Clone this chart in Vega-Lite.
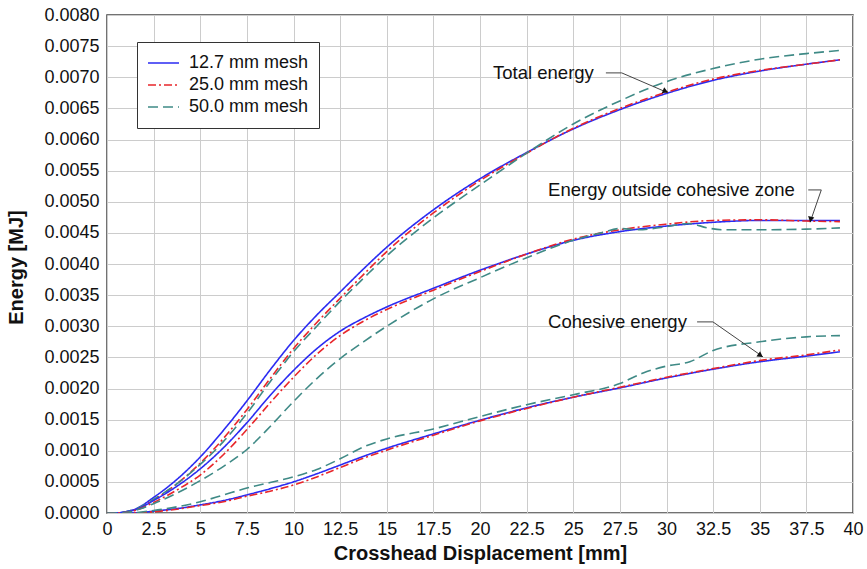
{
  "$schema": "https://vega.github.io/schema/vega-lite/v6.json",
  "width": 746,
  "height": 498,
  "autosize": "none",
  "padding": {"left": 107, "top": 15, "right": 14, "bottom": 56},
  "background": "white",
  "config": {
    "font": "Liberation Sans",
    "view": {"stroke": "#444444", "strokeWidth": 1.5},
    "axis": {
      "grid": true,
      "gridColor": "#cccccc",
      "gridWidth": 1,
      "tickSize": 0,
      "domain": false,
      "labelOverlap": false,
      "labelFontSize": 18,
      "labelColor": "#111111",
      "titleFontSize": 20,
      "titleFontWeight": "bold",
      "titleColor": "#111111"
    }
  },
  "datasets": {
    "curves": [
      {"e":"Total","m":"12.7 mm mesh","x":0,"y":0},{"e":"Total","m":"12.7 mm mesh","x":0.5,"y":0},{"e":"Total","m":"12.7 mm mesh","x":1,"y":0.00002},{"e":"Total","m":"12.7 mm mesh","x":1.5,"y":0.00006},{"e":"Total","m":"12.7 mm mesh","x":2.5,"y":0.00025},{"e":"Total","m":"12.7 mm mesh","x":3.75,"y":0.00054},{"e":"Total","m":"12.7 mm mesh","x":5,"y":0.0009},{"e":"Total","m":"12.7 mm mesh","x":6.25,"y":0.00133},{"e":"Total","m":"12.7 mm mesh","x":7.5,"y":0.0018},{"e":"Total","m":"12.7 mm mesh","x":8.75,"y":0.0023},{"e":"Total","m":"12.7 mm mesh","x":10,"y":0.00277},{"e":"Total","m":"12.7 mm mesh","x":11.25,"y":0.00318},{"e":"Total","m":"12.7 mm mesh","x":12.5,"y":0.00355},{"e":"Total","m":"12.7 mm mesh","x":13.75,"y":0.00392},{"e":"Total","m":"12.7 mm mesh","x":15,"y":0.00427},{"e":"Total","m":"12.7 mm mesh","x":17.5,"y":0.00487},{"e":"Total","m":"12.7 mm mesh","x":20,"y":0.00537},{"e":"Total","m":"12.7 mm mesh","x":22.5,"y":0.00579},{"e":"Total","m":"12.7 mm mesh","x":25,"y":0.00617},{"e":"Total","m":"12.7 mm mesh","x":27.5,"y":0.00648},{"e":"Total","m":"12.7 mm mesh","x":30,"y":0.00674},{"e":"Total","m":"12.7 mm mesh","x":32.5,"y":0.00695},{"e":"Total","m":"12.7 mm mesh","x":35,"y":0.0071},{"e":"Total","m":"12.7 mm mesh","x":37.5,"y":0.00721},{"e":"Total","m":"12.7 mm mesh","x":39.3,"y":0.00728},

      {"e":"Total","m":"25.0 mm mesh","x":0,"y":0},{"e":"Total","m":"25.0 mm mesh","x":0.5,"y":0},{"e":"Total","m":"25.0 mm mesh","x":1,"y":0.00001},{"e":"Total","m":"25.0 mm mesh","x":1.5,"y":0.00005},{"e":"Total","m":"25.0 mm mesh","x":2.5,"y":0.00021},{"e":"Total","m":"25.0 mm mesh","x":3.75,"y":0.00047},{"e":"Total","m":"25.0 mm mesh","x":5,"y":0.0008},{"e":"Total","m":"25.0 mm mesh","x":6.25,"y":0.0012},{"e":"Total","m":"25.0 mm mesh","x":7.5,"y":0.00166},{"e":"Total","m":"25.0 mm mesh","x":8.75,"y":0.00216},{"e":"Total","m":"25.0 mm mesh","x":10,"y":0.00264},{"e":"Total","m":"25.0 mm mesh","x":11.25,"y":0.00306},{"e":"Total","m":"25.0 mm mesh","x":12.5,"y":0.00345},{"e":"Total","m":"25.0 mm mesh","x":13.75,"y":0.00383},{"e":"Total","m":"25.0 mm mesh","x":15,"y":0.0042},{"e":"Total","m":"25.0 mm mesh","x":17.5,"y":0.00482},{"e":"Total","m":"25.0 mm mesh","x":20,"y":0.00534},{"e":"Total","m":"25.0 mm mesh","x":22.5,"y":0.00578},{"e":"Total","m":"25.0 mm mesh","x":25,"y":0.00618},{"e":"Total","m":"25.0 mm mesh","x":27.5,"y":0.0065},{"e":"Total","m":"25.0 mm mesh","x":30,"y":0.00676},{"e":"Total","m":"25.0 mm mesh","x":32.5,"y":0.00697},{"e":"Total","m":"25.0 mm mesh","x":35,"y":0.00711},{"e":"Total","m":"25.0 mm mesh","x":37.5,"y":0.00721},{"e":"Total","m":"25.0 mm mesh","x":39.3,"y":0.00728},

      {"e":"Total","m":"50.0 mm mesh","x":0,"y":0},{"e":"Total","m":"50.0 mm mesh","x":0.5,"y":0},{"e":"Total","m":"50.0 mm mesh","x":1,"y":0.00002},{"e":"Total","m":"50.0 mm mesh","x":1.5,"y":0.00006},{"e":"Total","m":"50.0 mm mesh","x":2.5,"y":0.00022},{"e":"Total","m":"50.0 mm mesh","x":3.75,"y":0.00047},{"e":"Total","m":"50.0 mm mesh","x":5,"y":0.00078},{"e":"Total","m":"50.0 mm mesh","x":6.25,"y":0.00115},{"e":"Total","m":"50.0 mm mesh","x":7.5,"y":0.0016},{"e":"Total","m":"50.0 mm mesh","x":8.75,"y":0.00211},{"e":"Total","m":"50.0 mm mesh","x":10,"y":0.00259},{"e":"Total","m":"50.0 mm mesh","x":11.25,"y":0.003},{"e":"Total","m":"50.0 mm mesh","x":12.5,"y":0.0034},{"e":"Total","m":"50.0 mm mesh","x":13.75,"y":0.00377},{"e":"Total","m":"50.0 mm mesh","x":15,"y":0.00413},{"e":"Total","m":"50.0 mm mesh","x":17.5,"y":0.00474},{"e":"Total","m":"50.0 mm mesh","x":20,"y":0.00527},{"e":"Total","m":"50.0 mm mesh","x":22.5,"y":0.00578},{"e":"Total","m":"50.0 mm mesh","x":25,"y":0.00625},{"e":"Total","m":"50.0 mm mesh","x":27.5,"y":0.00662},{"e":"Total","m":"50.0 mm mesh","x":30,"y":0.00693},{"e":"Total","m":"50.0 mm mesh","x":32.5,"y":0.00714},{"e":"Total","m":"50.0 mm mesh","x":35,"y":0.00729},{"e":"Total","m":"50.0 mm mesh","x":37.5,"y":0.00738},{"e":"Total","m":"50.0 mm mesh","x":39.3,"y":0.00743},

      {"e":"Outside","m":"12.7 mm mesh","x":0,"y":0},{"e":"Outside","m":"12.7 mm mesh","x":0.5,"y":0},{"e":"Outside","m":"12.7 mm mesh","x":1,"y":0.00002},{"e":"Outside","m":"12.7 mm mesh","x":1.5,"y":0.00005},{"e":"Outside","m":"12.7 mm mesh","x":2.5,"y":0.0002},{"e":"Outside","m":"12.7 mm mesh","x":3.75,"y":0.00043},{"e":"Outside","m":"12.7 mm mesh","x":5,"y":0.00071},{"e":"Outside","m":"12.7 mm mesh","x":6.25,"y":0.00105},{"e":"Outside","m":"12.7 mm mesh","x":7.5,"y":0.00145},{"e":"Outside","m":"12.7 mm mesh","x":8.75,"y":0.00189},{"e":"Outside","m":"12.7 mm mesh","x":10,"y":0.00229},{"e":"Outside","m":"12.7 mm mesh","x":11.25,"y":0.00264},{"e":"Outside","m":"12.7 mm mesh","x":12.5,"y":0.00292},{"e":"Outside","m":"12.7 mm mesh","x":13.75,"y":0.00313},{"e":"Outside","m":"12.7 mm mesh","x":15,"y":0.00331},{"e":"Outside","m":"12.7 mm mesh","x":17.5,"y":0.00361},{"e":"Outside","m":"12.7 mm mesh","x":20,"y":0.0039},{"e":"Outside","m":"12.7 mm mesh","x":22.5,"y":0.00416},{"e":"Outside","m":"12.7 mm mesh","x":25,"y":0.00438},{"e":"Outside","m":"12.7 mm mesh","x":27.5,"y":0.00452},{"e":"Outside","m":"12.7 mm mesh","x":30,"y":0.00461},{"e":"Outside","m":"12.7 mm mesh","x":32.5,"y":0.00467},{"e":"Outside","m":"12.7 mm mesh","x":35,"y":0.0047},{"e":"Outside","m":"12.7 mm mesh","x":37.5,"y":0.0047},{"e":"Outside","m":"12.7 mm mesh","x":39.3,"y":0.0047},

      {"e":"Outside","m":"25.0 mm mesh","x":0,"y":0},{"e":"Outside","m":"25.0 mm mesh","x":0.5,"y":0},{"e":"Outside","m":"25.0 mm mesh","x":1,"y":0.00001},{"e":"Outside","m":"25.0 mm mesh","x":1.5,"y":0.00004},{"e":"Outside","m":"25.0 mm mesh","x":2.5,"y":0.00017},{"e":"Outside","m":"25.0 mm mesh","x":3.75,"y":0.00037},{"e":"Outside","m":"25.0 mm mesh","x":5,"y":0.00061},{"e":"Outside","m":"25.0 mm mesh","x":6.25,"y":0.00094},{"e":"Outside","m":"25.0 mm mesh","x":7.5,"y":0.00134},{"e":"Outside","m":"25.0 mm mesh","x":8.75,"y":0.00177},{"e":"Outside","m":"25.0 mm mesh","x":10,"y":0.00218},{"e":"Outside","m":"25.0 mm mesh","x":11.25,"y":0.00255},{"e":"Outside","m":"25.0 mm mesh","x":12.5,"y":0.00285},{"e":"Outside","m":"25.0 mm mesh","x":13.75,"y":0.00308},{"e":"Outside","m":"25.0 mm mesh","x":15,"y":0.00327},{"e":"Outside","m":"25.0 mm mesh","x":17.5,"y":0.00358},{"e":"Outside","m":"25.0 mm mesh","x":20,"y":0.00388},{"e":"Outside","m":"25.0 mm mesh","x":22.5,"y":0.00416},{"e":"Outside","m":"25.0 mm mesh","x":25,"y":0.0044},{"e":"Outside","m":"25.0 mm mesh","x":27.5,"y":0.00455},{"e":"Outside","m":"25.0 mm mesh","x":30,"y":0.00464},{"e":"Outside","m":"25.0 mm mesh","x":32.5,"y":0.0047},{"e":"Outside","m":"25.0 mm mesh","x":35,"y":0.00471},{"e":"Outside","m":"25.0 mm mesh","x":37.5,"y":0.00469},{"e":"Outside","m":"25.0 mm mesh","x":39.3,"y":0.00468},

      {"e":"Outside","m":"50.0 mm mesh","x":0,"y":0},{"e":"Outside","m":"50.0 mm mesh","x":0.5,"y":0},{"e":"Outside","m":"50.0 mm mesh","x":1,"y":0.00001},{"e":"Outside","m":"50.0 mm mesh","x":1.5,"y":0.00004},{"e":"Outside","m":"50.0 mm mesh","x":2.5,"y":0.00015},{"e":"Outside","m":"50.0 mm mesh","x":3.75,"y":0.00032},{"e":"Outside","m":"50.0 mm mesh","x":5,"y":0.00052},{"e":"Outside","m":"50.0 mm mesh","x":6.25,"y":0.00075},{"e":"Outside","m":"50.0 mm mesh","x":7.5,"y":0.00102},{"e":"Outside","m":"50.0 mm mesh","x":8.75,"y":0.00139},{"e":"Outside","m":"50.0 mm mesh","x":10,"y":0.00179},{"e":"Outside","m":"50.0 mm mesh","x":11.25,"y":0.00216},{"e":"Outside","m":"50.0 mm mesh","x":12.5,"y":0.00248},{"e":"Outside","m":"50.0 mm mesh","x":13.75,"y":0.00275},{"e":"Outside","m":"50.0 mm mesh","x":15,"y":0.003},{"e":"Outside","m":"50.0 mm mesh","x":17.5,"y":0.00344},{"e":"Outside","m":"50.0 mm mesh","x":20,"y":0.00378},{"e":"Outside","m":"50.0 mm mesh","x":22.5,"y":0.0041},{"e":"Outside","m":"50.0 mm mesh","x":25,"y":0.00438},{"e":"Outside","m":"50.0 mm mesh","x":26.5,"y":0.0045},{"e":"Outside","m":"50.0 mm mesh","x":27.5,"y":0.00457},{"e":"Outside","m":"50.0 mm mesh","x":28.5,"y":0.00455},{"e":"Outside","m":"50.0 mm mesh","x":30,"y":0.0046},{"e":"Outside","m":"50.0 mm mesh","x":31.2,"y":0.00465},{"e":"Outside","m":"50.0 mm mesh","x":32.2,"y":0.00458},{"e":"Outside","m":"50.0 mm mesh","x":33,"y":0.00455},{"e":"Outside","m":"50.0 mm mesh","x":35,"y":0.00455},{"e":"Outside","m":"50.0 mm mesh","x":37.5,"y":0.00456},{"e":"Outside","m":"50.0 mm mesh","x":39.3,"y":0.00458},

      {"e":"Cohesive","m":"12.7 mm mesh","x":0,"y":0},{"e":"Cohesive","m":"12.7 mm mesh","x":1.5,"y":0},{"e":"Cohesive","m":"12.7 mm mesh","x":2.5,"y":0.00003},{"e":"Cohesive","m":"12.7 mm mesh","x":3.75,"y":0.00007},{"e":"Cohesive","m":"12.7 mm mesh","x":5,"y":0.00013},{"e":"Cohesive","m":"12.7 mm mesh","x":6.25,"y":0.0002},{"e":"Cohesive","m":"12.7 mm mesh","x":7.5,"y":0.00029},{"e":"Cohesive","m":"12.7 mm mesh","x":8.75,"y":0.00039},{"e":"Cohesive","m":"12.7 mm mesh","x":10,"y":0.0005},{"e":"Cohesive","m":"12.7 mm mesh","x":11.25,"y":0.00063},{"e":"Cohesive","m":"12.7 mm mesh","x":12.5,"y":0.00077},{"e":"Cohesive","m":"12.7 mm mesh","x":13.75,"y":0.00091},{"e":"Cohesive","m":"12.7 mm mesh","x":15,"y":0.00104},{"e":"Cohesive","m":"12.7 mm mesh","x":17.5,"y":0.00127},{"e":"Cohesive","m":"12.7 mm mesh","x":20,"y":0.00149},{"e":"Cohesive","m":"12.7 mm mesh","x":22.5,"y":0.00169},{"e":"Cohesive","m":"12.7 mm mesh","x":25,"y":0.00186},{"e":"Cohesive","m":"12.7 mm mesh","x":27.5,"y":0.00201},{"e":"Cohesive","m":"12.7 mm mesh","x":30,"y":0.00217},{"e":"Cohesive","m":"12.7 mm mesh","x":32.5,"y":0.00231},{"e":"Cohesive","m":"12.7 mm mesh","x":35,"y":0.00243},{"e":"Cohesive","m":"12.7 mm mesh","x":37.5,"y":0.00252},{"e":"Cohesive","m":"12.7 mm mesh","x":39.3,"y":0.00259},

      {"e":"Cohesive","m":"25.0 mm mesh","x":0,"y":0},{"e":"Cohesive","m":"25.0 mm mesh","x":1.5,"y":0},{"e":"Cohesive","m":"25.0 mm mesh","x":2.5,"y":0.00002},{"e":"Cohesive","m":"25.0 mm mesh","x":3.75,"y":0.00006},{"e":"Cohesive","m":"25.0 mm mesh","x":5,"y":0.00012},{"e":"Cohesive","m":"25.0 mm mesh","x":6.25,"y":0.00018},{"e":"Cohesive","m":"25.0 mm mesh","x":7.5,"y":0.00027},{"e":"Cohesive","m":"25.0 mm mesh","x":8.75,"y":0.00035},{"e":"Cohesive","m":"25.0 mm mesh","x":10,"y":0.00045},{"e":"Cohesive","m":"25.0 mm mesh","x":11.25,"y":0.00058},{"e":"Cohesive","m":"25.0 mm mesh","x":12.5,"y":0.00073},{"e":"Cohesive","m":"25.0 mm mesh","x":13.75,"y":0.00088},{"e":"Cohesive","m":"25.0 mm mesh","x":15,"y":0.00101},{"e":"Cohesive","m":"25.0 mm mesh","x":17.5,"y":0.00125},{"e":"Cohesive","m":"25.0 mm mesh","x":20,"y":0.00148},{"e":"Cohesive","m":"25.0 mm mesh","x":22.5,"y":0.00168},{"e":"Cohesive","m":"25.0 mm mesh","x":25,"y":0.00186},{"e":"Cohesive","m":"25.0 mm mesh","x":27.5,"y":0.00202},{"e":"Cohesive","m":"25.0 mm mesh","x":30,"y":0.00218},{"e":"Cohesive","m":"25.0 mm mesh","x":32.5,"y":0.00232},{"e":"Cohesive","m":"25.0 mm mesh","x":35,"y":0.00245},{"e":"Cohesive","m":"25.0 mm mesh","x":37.5,"y":0.00254},{"e":"Cohesive","m":"25.0 mm mesh","x":39.3,"y":0.00262},

      {"e":"Cohesive","m":"50.0 mm mesh","x":0,"y":0},{"e":"Cohesive","m":"50.0 mm mesh","x":1,"y":0},{"e":"Cohesive","m":"50.0 mm mesh","x":2.5,"y":0.00004},{"e":"Cohesive","m":"50.0 mm mesh","x":3.75,"y":0.0001},{"e":"Cohesive","m":"50.0 mm mesh","x":5,"y":0.00018},{"e":"Cohesive","m":"50.0 mm mesh","x":6.25,"y":0.00029},{"e":"Cohesive","m":"50.0 mm mesh","x":7.5,"y":0.0004},{"e":"Cohesive","m":"50.0 mm mesh","x":8.75,"y":0.00049},{"e":"Cohesive","m":"50.0 mm mesh","x":10,"y":0.00058},{"e":"Cohesive","m":"50.0 mm mesh","x":11.25,"y":0.0007},{"e":"Cohesive","m":"50.0 mm mesh","x":12.5,"y":0.00087},{"e":"Cohesive","m":"50.0 mm mesh","x":13.75,"y":0.00106},{"e":"Cohesive","m":"50.0 mm mesh","x":15,"y":0.00119},{"e":"Cohesive","m":"50.0 mm mesh","x":17.5,"y":0.00135},{"e":"Cohesive","m":"50.0 mm mesh","x":20,"y":0.00155},{"e":"Cohesive","m":"50.0 mm mesh","x":22.5,"y":0.00174},{"e":"Cohesive","m":"50.0 mm mesh","x":25,"y":0.0019},{"e":"Cohesive","m":"50.0 mm mesh","x":27.5,"y":0.00208},{"e":"Cohesive","m":"50.0 mm mesh","x":28.75,"y":0.00225},{"e":"Cohesive","m":"50.0 mm mesh","x":30,"y":0.00236},{"e":"Cohesive","m":"50.0 mm mesh","x":31.25,"y":0.00243},{"e":"Cohesive","m":"50.0 mm mesh","x":32.5,"y":0.00261},{"e":"Cohesive","m":"50.0 mm mesh","x":35,"y":0.00275},{"e":"Cohesive","m":"50.0 mm mesh","x":37.5,"y":0.00283},{"e":"Cohesive","m":"50.0 mm mesh","x":39.3,"y":0.00285}
    ],
    "notes": [
      {"label": "Total energy", "x": 20.7, "y": 0.00707},
      {"label": "Energy outside cohesive zone", "x": 23.65, "y": 0.00519},
      {"label": "Cohesive energy", "x": 23.65, "y": 0.00307}
    ],
    "leaders": [
      {"id": "t", "k": 1, "x": 26.75, "y": 0.00707},
      {"id": "t", "k": 2, "x": 27.6, "y": 0.00707},
      {"id": "t", "k": 3, "x": 30.08, "y": 0.00675},
      {"id": "o", "k": 1, "x": 37.6, "y": 0.00519},
      {"id": "o", "k": 2, "x": 38.3, "y": 0.00519},
      {"id": "o", "k": 3, "x": 37.7, "y": 0.00467},
      {"id": "c", "k": 1, "x": 31.64, "y": 0.00307},
      {"id": "c", "k": 2, "x": 32.49, "y": 0.00307},
      {"id": "c", "k": 3, "x": 35.17, "y": 0.00251}
    ],
    "heads": [
      {"id": "t", "x": 29.9, "y": 0.00678},
      {"id": "o", "x": 37.74, "y": 0.00473},
      {"id": "c", "x": 35.0, "y": 0.00254}
    ]
  },
  "encoding": {
    "x": {
      "field": "x", "type": "quantitative",
      "scale": {"domain": [0, 40], "nice": false, "zero": false},
      "axis": {
        "values": [0, 2.5, 5, 7.5, 10, 12.5, 15, 17.5, 20, 22.5, 25, 27.5, 30, 32.5, 35, 37.5, 40],
        "tickCount": 20,
        "labelExpr": "'' + datum.value",
        "labelOverlap": false,
        "labelPadding": 7,
        "labelFlush": false,
        "title": "Crosshead Displacement [mm]",
        "titleY": 46,
        "titleBaseline": "alphabetic"
      }
    },
    "y": {
      "field": "y", "type": "quantitative",
      "scale": {"domain": [0, 0.008], "nice": false},
      "axis": {
        "values": [0, 0.0005, 0.001, 0.0015, 0.002, 0.0025, 0.003, 0.0035, 0.004, 0.0045, 0.005, 0.0055, 0.006, 0.0065, 0.007, 0.0075, 0.008],
        "tickCount": 20,
        "labelExpr": "format(datum.value, '.4f')",
        "labelOverlap": false,
        "labelPadding": 8,
        "labelFlush": false,
        "title": "Energy [MJ]",
        "titleX": -85,
        "titleY": 252,
        "titleBaseline": "alphabetic"
      }
    }
  },
  "layer": [
    {
      "data": {"name": "curves"},
      "mark": {"type": "line", "strokeWidth": 1.6, "interpolate": "monotone", "clip": true},
      "encoding": {
        "color": {
          "field": "m", "type": "nominal",
          "scale": {"domain": ["12.7 mm mesh", "25.0 mm mesh", "50.0 mm mesh"], "range": ["#2b2bf2", "#e8262b", "#3f8a86"]},
          "legend": {
            "orient": "none",
            "legendX": 30,
            "legendY": 27,
            "title": null,
            "strokeColor": "#333333",
            "fillColor": "white",
            "padding": 10,
            "symbolType": "stroke",
            "symbolSize": 961,
            "symbolStrokeWidth": 1.6,
            "clipHeight": 22,
            "rowPadding": 0,
            "labelFontSize": 18,
            "labelColor": "#111111",
            "labelOffset": 9
          }
        },
        "strokeDash": {
          "field": "m", "type": "nominal",
          "scale": {"domain": ["12.7 mm mesh", "25.0 mm mesh", "50.0 mm mesh"], "range": [[1, 0], [8, 3, 2, 3], [10, 5]]},
          "legend": null
        },
        "detail": {"field": "e"}
      }
    },
    {
      "data": {"name": "leaders"},
      "mark": {"type": "line", "color": "#444444", "strokeWidth": 1},
      "encoding": {
        "detail": {"field": "id"},
        "order": {"field": "k"}
      }
    },
    {
      "data": {"name": "heads"},
      "transform": [{"filter": "datum.id === 't'"}],
      "mark": {"type": "point", "shape": "triangle", "filled": true, "color": "#111111", "opacity": 1, "size": 40, "angle": 113}
    },
    {
      "data": {"name": "heads"},
      "transform": [{"filter": "datum.id === 'o'"}],
      "mark": {"type": "point", "shape": "triangle", "filled": true, "color": "#111111", "opacity": 1, "size": 40, "angle": 192}
    },
    {
      "data": {"name": "heads"},
      "transform": [{"filter": "datum.id === 'c'"}],
      "mark": {"type": "point", "shape": "triangle", "filled": true, "color": "#111111", "opacity": 1, "size": 40, "angle": 125}
    },
    {
      "data": {"name": "notes"},
      "mark": {"type": "text", "align": "left", "baseline": "middle", "fontSize": 18.5, "color": "#111111"},
      "encoding": {
        "text": {"field": "label"}
      }
    }
  ]
}
